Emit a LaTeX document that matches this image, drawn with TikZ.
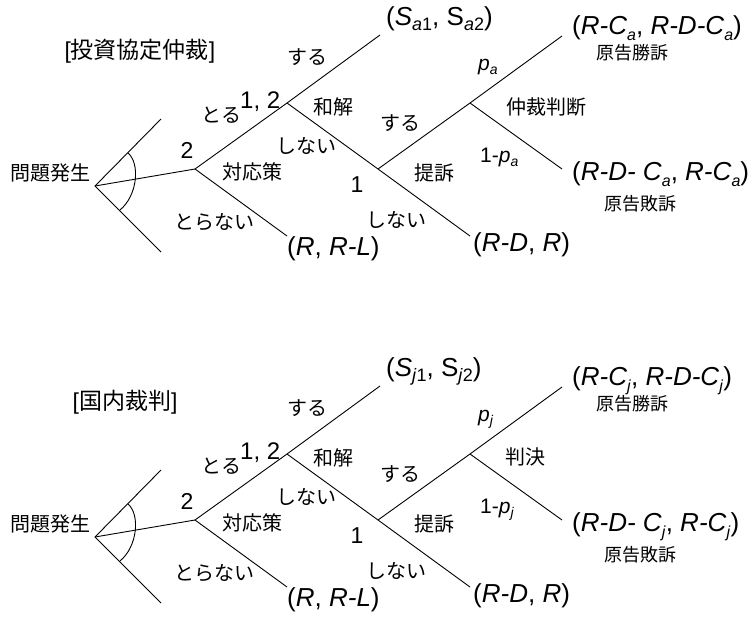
\documentclass[tikz,border=0pt]{standalone}
\usepackage{fontspec}
\setmainfont{Liberation Sans}
\newfontfamily\jp{Noto Sans CJK JP}
% subscript: size, drop, text
\newcommand\sbs[3]{\raisebox{-#2pt}{\fontsize{#1}{#1}\selectfont #3}}
\tikzset{
  lbl/.style={inner sep=0pt, font=\jp\fontsize{20}{20}\selectfont},
  smalllbl/.style={inner sep=0pt, font=\jp\fontsize{18}{18}\selectfont},
  ttl/.style={inner sep=0pt, font=\fontsize{23}{23}\selectfont},
  num/.style={inner sep=0pt, font=\fontsize{23}{23}\selectfont},
  pay/.style={inner sep=0pt, font=\fontsize{26}{26}\selectfont},
  prob/.style={inner sep=0pt, font=\fontsize{21}{21}\selectfont},
  edge/.style={line width=0.9pt},
}
% #1 prefix, #2 y shift, #3 title, #4 title x, #5 letter
\newcommand\gtree[5]{%
\begin{scope}[shift={(0,#2)}]
  \coordinate (#1r) at (95,186);
  \coordinate (#1u) at (161,119);
  \coordinate (#1d) at (161,252);
  \coordinate (#1n2) at (195,169);
  \coordinate (#1n12) at (287,103);
  \coordinate (#1eRL) at (287,236);
  \coordinate (#1eS) at (380,35);
  \coordinate (#1n1) at (378,169);
  \coordinate (#1eRD) at (470,236);
  \coordinate (#1nc) at (470,103);
  \coordinate (#1eW) at (562,36);
  \coordinate (#1eL) at (562,169);
  \coordinate (#1a0) at (128,153);
  \coordinate (#1a3) at (120,210);
  \draw[edge] (#1u) -- (#1r) -- (#1d);
  \draw[edge] (#1r) -- (#1n2);
  \draw[edge] (#1n2) -- (#1n12) -- (#1eS);
  \draw[edge] (#1n2) -- (#1eRL);
  \draw[edge] (#1n12) -- (#1n1) -- (#1eRD);
  \draw[edge] (#1n1) -- (#1nc) -- (#1eW);
  \draw[edge] (#1nc) -- (#1eL);
  \draw[edge] (#1a0) .. controls (140,163) and (138,195) .. (#1a3);
  \node[ttl] (#1title) at (#4,51) {[{\jp #3}]};
  \node[lbl] (#1start) at (50,173) {問題発生};
  \node[num, anchor=base] (#1l2) at (187,158) {2};
  \node[num, anchor=base west, font=\fontsize{24}{24}\selectfont] (#1l12) at (240,108) {1, 2};
  \node[num, anchor=base] (#1l1) at (357,192) {1};
  \node[lbl] (#1toru) at (221,115) {とる};
  \node[lbl] (#1suru1) at (307,57) {する};
  \node[lbl] (#1wakai) at (333,107) {和解};
  \node[lbl] (#1shinai1) at (306,146) {しない};
  \node[lbl] (#1taio) at (252,172) {対応策};
  \node[lbl] (#1toranai) at (214,222) {とらない};
  \node[lbl] (#1shinai2) at (396,220) {しない};
  \node[lbl] (#1suru2) at (400,123) {する};
  \node[lbl] (#1teiso) at (434,173) {提訴};
  \node[smalllbl] (#1win) at (632,53) {原告勝訴};
  \node[smalllbl] (#1lose) at (640,204) {原告敗訴};
  \node[prob, anchor=base west] (#1p) at (478,70) {\textit{p}\sbs{14}{4}{\textit{#5}}};
  \node[prob, anchor=base west] (#1q) at (480,162) {1-\textit{p}\sbs{14}{4}{\textit{#5}}};
  \node[pay, anchor=base west] (#1pS) at (386,25) {(\textit{S}\sbs{18}{5}{\textit{#5}1}, S\sbs{18}{5}{\textit{#5}2})};
  \node[pay, anchor=base west] (#1pW) at (572,34) {(\textit{R-C}\sbs{16}{6}{\textit{#5}}, \textit{R-D-C}\sbs{16}{6}{\textit{#5}})};
  \node[pay, anchor=base west] (#1pL) at (572,180) {(\textit{R-D- C}\sbs{16}{6}{\textit{#5}}, \textit{R-C}\sbs{16}{6}{\textit{#5}})};
  \node[pay, anchor=base west] (#1pRD) at (473,251) {(\textit{R-D}, \textit{R})};
  \node[pay, anchor=base west] (#1pRL) at (287,255) {(\textit{R}, \textit{R-L})};
\end{scope}}
\begin{document}
\begin{tikzpicture}[x=1pt, y=-1pt]
  \useasboundingbox (0,0) rectangle (753,619);
  \gtree{a}{0}{投資協定仲裁}{140}{a}
  \gtree{b}{351}{国内裁判}{125}{j}
  \node[lbl] (ajudg) at (546,107) {仲裁判断};
  \node[lbl] (bjudg) at (525,457) {判決};
\end{tikzpicture}
\end{document}
